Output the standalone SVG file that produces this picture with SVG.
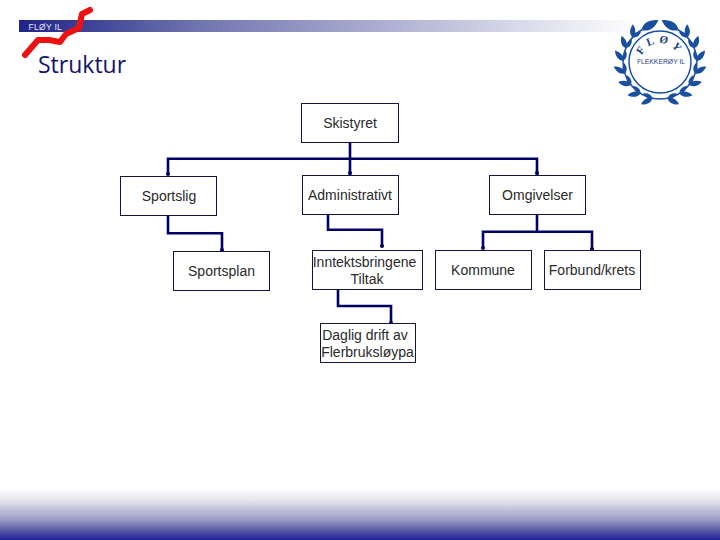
<svg xmlns="http://www.w3.org/2000/svg" width="720" height="540" viewBox="0 0 720 540">
<style>
.b{fill:#fff;stroke:#14143c;stroke-width:1}
.t{font-family:"Liberation Sans",Arial,sans-serif;font-size:14px;fill:#2a2a2a;text-anchor:middle}
.c{fill:none;stroke:#000066;stroke-width:2.6}
.d{fill:#000066}
.l{fill:#1a4f9f}
</style>
<defs>
<linearGradient id="bar" x1="0" y1="0" x2="1" y2="0"><stop offset="0" stop-color="#1f2388"/><stop offset="0.3" stop-color="#7377b0"/><stop offset="1" stop-color="#fff"/></linearGradient>
<linearGradient id="foot" x1="0" y1="0" x2="0" y2="1"><stop offset="0" stop-color="#fff"/><stop offset="0.23" stop-color="#e6e6ee"/><stop offset="0.615" stop-color="#9a9ac4"/><stop offset="0.81" stop-color="#5a5aa5"/><stop offset="1" stop-color="#20209a"/></linearGradient>
<path id="leaf" d="M0 0C3 -3.500 8 -3.500 13 0C8 3.500 3 3.500 0 0Z"/>
<g id="pair"><use href="#leaf" transform="translate(660 99) rotate(140)"/><use href="#leaf" transform="translate(660 99) rotate(-165) scale(0.8)"/></g>
<g id="branch">
<use href="#pair" transform="rotate(12 660 62)"/>
<use href="#pair" transform="rotate(32 660 62)"/>
<use href="#pair" transform="rotate(52 660 62)"/>
<use href="#pair" transform="rotate(72 660 62)"/>
<use href="#pair" transform="rotate(92 660 62)"/>
<use href="#pair" transform="rotate(112 660 62)"/>
<use href="#pair" transform="rotate(132 660 62)"/>
<use href="#leaf" transform="rotate(150 660 62) translate(660 99) rotate(180) scale(1.500)"/>
</g>
<path id="arch" d="M641 62A19 19 0 0 1 679 62"/>
</defs>
<rect width="720" height="540" fill="#fff"/>
<rect x="0" y="488" width="720" height="52" fill="url(#foot)"/>
<rect x="19" y="20" width="620" height="12" fill="url(#bar)"/>
<text x="28.500" y="30" font-family="Liberation Sans,Arial,sans-serif" font-size="8.500" letter-spacing="0.300" fill="#e8e8f4">FLØY IL</text>
<path d="M25 55L38 40L49 40L60 42L66 34L79 28L82 14L90 10" fill="none" stroke="#ee1111" stroke-width="6" stroke-linejoin="round" stroke-linecap="round"/>
<text x="38" y="73" font-family="Open Sans,Noto Sans,sans-serif" font-size="23" fill="#14146e">Struktur</text>
<g id="logo">
<path d="M644.400 28.500A37 37 0 0 0 660 99A37 37 0 0 0 675.600 28.500" fill="none" stroke="#1a4f9f" stroke-width="1.500"/>
<g class="l"><use href="#branch"/><use href="#branch" transform="translate(1320 0) scale(-1 1)"/></g>
<circle cx="660" cy="62" r="31" fill="#fff" stroke="#1a4f9f" stroke-width="1.500"/>
<text font-family="Liberation Serif,serif" font-weight="bold" font-size="11" letter-spacing="4" text-anchor="middle" fill="#1a3f80"><textPath href="#arch" startOffset="50%">FLØY</textPath></text>
<text x="661" y="63.500" font-family="Liberation Sans,sans-serif" font-size="6.800" text-anchor="middle" fill="#1a3f80">FLEKKERØY IL</text>
</g>
<g id="connectors">
<path class="c" d="M350 142V175M168 175V158.700H537V175"/>
<path class="c" d="M168 215V233.300H222V251"/>
<path class="c" d="M328 214V229.700H382V247"/>
<path class="c" d="M338 289V306H391V323"/>
<path class="c" d="M537 214V231.700M483 248V231.700H592V249"/>
<g class="d">
<circle cx="168" cy="174" r="2"/><circle cx="350" cy="173" r="2"/><circle cx="537" cy="173" r="2"/><circle cx="222" cy="250" r="2"/><circle cx="382" cy="246" r="2"/><circle cx="391" cy="323" r="2"/><circle cx="483" cy="248" r="2"/><circle cx="592" cy="249" r="2"/>
</g>
</g>
<g id="skistyret"><rect class="b" x="301.500" y="103.500" width="97" height="39"/><text class="t" x="350" y="128">Skistyret</text></g>
<g id="sportslig"><rect class="b" x="120.500" y="176.500" width="96" height="39"/><text class="t" x="169" y="201">Sportslig</text></g>
<g id="administrativt"><rect class="b" x="302.500" y="175.500" width="96" height="39"/><text class="t" x="350" y="200">Administrativt</text></g>
<g id="omgivelser"><rect class="b" x="489.500" y="175.500" width="96" height="39"/><text class="t" x="537.500" y="200">Omgivelser</text></g>
<g id="sportsplan"><rect class="b" x="173.500" y="251.500" width="96" height="39"/><text class="t" x="221.500" y="276">Sportsplan</text></g>
<g id="inntekt"><rect class="b" x="312.500" y="250.500" width="110" height="39"/><text class="t" x="364.500" y="267">Inntektsbringene</text><text class="t" x="367" y="284">Tiltak</text></g>
<g id="kommune"><rect class="b" x="435.500" y="250.500" width="96" height="39"/><text class="t" x="483" y="275">Kommune</text></g>
<g id="forbund"><rect class="b" x="544.500" y="250.500" width="96" height="39"/><text class="t" x="592" y="275">Forbund/krets</text></g>
<g id="daglig"><rect class="b" x="320.500" y="323.500" width="95" height="39"/><text class="t" x="365" y="340">Daglig drift av</text><text class="t" x="367.500" y="357">Flerbruksløypa</text></g>
</svg>
